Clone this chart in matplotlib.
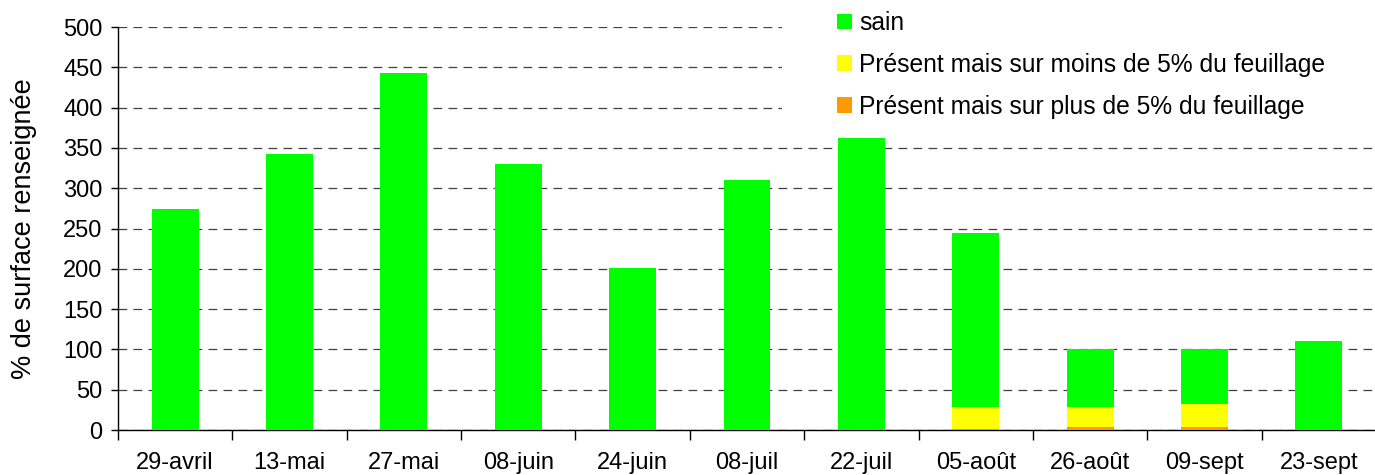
import numpy as np
import matplotlib
matplotlib.use('Agg')
import matplotlib.pyplot as plt
from matplotlib.patches import Patch, Rectangle

plt.rcParams['font.family'] = ['Liberation Sans', 'DejaVu Sans']

# Dates of observation
dates = ['29-avril', '13-mai', '27-mai', '08-juin', '24-juin', '08-juil',
         '22-juil', '05-août', '26-août', '09-sept', '23-sept']

# % de surface renseignée by class
plus5 = [0, 0, 0, 0, 0, 0, 0, 1, 4, 4, 0]
moins5 = [0, 0, 0, 0, 0, 0, 0, 27, 24, 28, 0]
sain = [274, 342, 443, 330, 201, 310, 362, 216, 72, 68, 110]

labels = ['sain',
          'Présent mais sur moins de 5% du feuillage',
          'Présent mais sur plus de 5% du feuillage']
colors = ['#00FF00', '#FFFF00', '#FF9900']

fig = plt.figure(figsize=(13.75, 4.75), dpi=100)
ax = fig.add_axes([0.0858, 0.0947, 0.915, 0.8483])

x = np.arange(len(dates))
w = 0.41
ax.bar(x, plus5, w, color=colors[2], zorder=3)
ax.bar(x, moins5, w, bottom=plus5, color=colors[1], zorder=3)
ax.bar(x, sain, w, bottom=np.array(plus5) + np.array(moins5), color=colors[0], zorder=3)

ax.set_xlim(-0.5, len(dates) - 0.5)
ax.set_ylim(0, 500)
ax.set_yticks(np.arange(0, 501, 50))
ax.yaxis.grid(True, linestyle=(0, (7, 5)), color='0.25', linewidth=0.9, zorder=0)

# boundary ticks between categories, labels at centers
ax.set_xticks(np.arange(-0.5, len(dates)), minor=False)
ax.set_xticklabels([])
ax.set_xticks(x, minor=True)
ax.set_xticklabels(dates, minor=True)
ax.tick_params(axis='x', which='major', direction='out', length=7, width=1)
ax.tick_params(axis='x', which='minor', length=0, pad=16, labelsize=17)
ax.tick_params(axis='y', direction='out', length=5, width=1, labelsize=17, pad=6)

for s in ['top', 'right']:
    ax.spines[s].set_visible(False)
ax.spines['left'].set_linewidth(1)
ax.spines['bottom'].set_linewidth(1)

ax.set_ylabel('% de surface renseignée', fontsize=19.5, labelpad=19)

# white background behind the legend (hides the grid there)
fig.patches.append(Rectangle((0.5687, 0.748), 0.4313, 0.252, transform=fig.transFigure,
                             facecolor='white', edgecolor='none', zorder=1))

handles = [Patch(facecolor=c, edgecolor='none') for c in colors]
fig.legend(handles, labels, loc='upper left', bbox_to_anchor=(0.6015, 0.997),
           frameon=False, fontsize=17.7, handlelength=0.61, handleheight=0.61,
           handletextpad=0.3, labelspacing=0.72, borderaxespad=0)

fig.savefig('out.png', dpi=100)
